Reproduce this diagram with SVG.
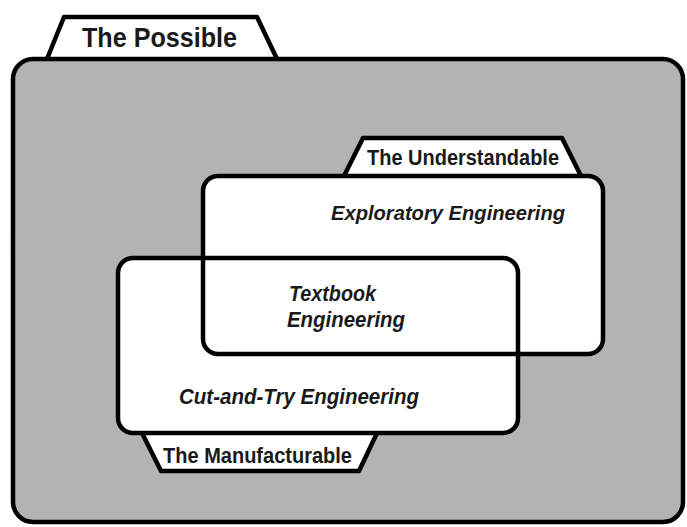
<svg xmlns="http://www.w3.org/2000/svg" width="687" height="527" viewBox="0 0 687 527">
<style>
.ln{stroke:#000;stroke-width:4.5;stroke-linejoin:round}
.tab{fill:#fff}
.box{fill:#fff}
.lbl{font-family:"Liberation Sans",Arial,sans-serif;font-weight:bold;fill:#1a1a1a}
.it{font-family:"Liberation Sans",Arial,sans-serif;font-weight:bold;font-style:italic;fill:#1a1a1a}
</style>
<rect width="687" height="527" fill="#fff"/>
<g id="possible">
<path class="ln tab" d="M47,59 L64,17 L257,17 L277,59"/>
<rect class="ln" x="13" y="59" width="670" height="463" rx="20" fill="#b3b3b3"/>
<text class="lbl" x="82" y="47" font-size="28" textLength="155" lengthAdjust="spacingAndGlyphs">The Possible</text>
</g>
<g id="understandable">
<path class="ln tab" d="M344,176 L363,138 L562,138 L581,176"/>
<rect class="box" x="203" y="176" width="400" height="178" rx="15"/>
</g>
<g id="manufacturable">
<path class="ln tab" d="M142,433 L161,471 L359,471 L377,433"/>
<rect class="box" x="118" y="258" width="400" height="175" rx="15"/>
</g>
<g id="outlines">
<rect class="ln" x="203" y="176" width="400" height="178" rx="15" fill="none"/>
<rect class="ln" x="118" y="258" width="400" height="175" rx="15" fill="none"/>
</g>
<g id="labels">
<text class="lbl" x="367" y="165" font-size="22" textLength="192" lengthAdjust="spacingAndGlyphs">The Understandable</text>
<text class="lbl" x="163" y="463" font-size="21.5" textLength="189" lengthAdjust="spacingAndGlyphs">The Manufacturable</text>
<text class="it" x="331" y="220" font-size="20" textLength="234" lengthAdjust="spacingAndGlyphs">Exploratory Engineering</text>
<text class="it" x="289" y="301" font-size="21.5" textLength="87" lengthAdjust="spacingAndGlyphs">Textbook</text>
<text class="it" x="287" y="327" font-size="21.5" textLength="118" lengthAdjust="spacingAndGlyphs">Engineering</text>
<text class="it" x="179" y="404" font-size="21.5" textLength="240" lengthAdjust="spacingAndGlyphs">Cut-and-Try Engineering</text>
</g>
</svg>
